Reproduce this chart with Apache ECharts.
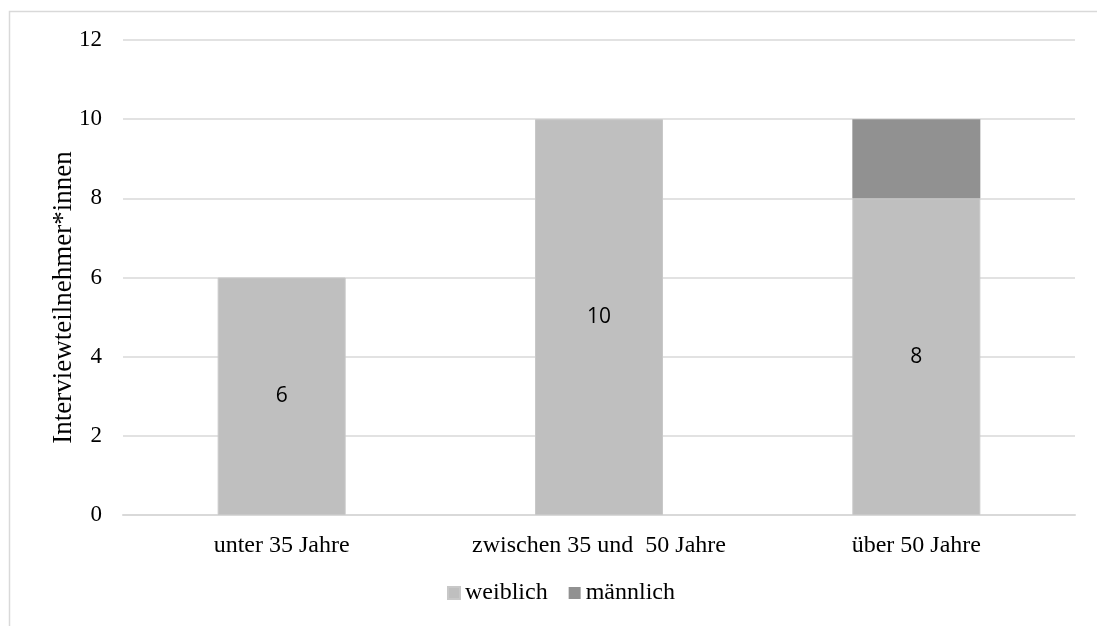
<!DOCTYPE html>
<html>
<head>
<meta charset="utf-8">
<script src="https://cdn.jsdelivr.net/npm/echarts@6/dist/echarts.min.js"></script>
<style>
  html, body { margin: 0; padding: 0; background: #fff; }
  #chart { width: 1097px; height: 626px; }
</style>
</head>
<body>
<div id="chart"></div>
<script>
// Age groups of the interview participants, split by gender
const categories = ['unter 35 Jahre', 'zwischen 35 und  50 Jahre', 'über 50 Jahre'];
const weiblich = [6, 10, 8];
const maennlich = [0, 0, 2];
const yTicks = { min: 0, max: 12, interval: 2 };

const serif = '"Liberation Serif", "Times New Roman", serif';
const sans = '"Open Sans", "Liberation Sans", sans-serif';

const chart = echarts.init(document.getElementById('chart'));
chart.setOption({
  animation: false,
  backgroundColor: '#fff',
  graphic: [{
    type: 'rect',
    shape: { x: 9.5, y: 11.5, width: 1200, height: 800 },
    style: { fill: 'none', stroke: '#d9d9d9', lineWidth: 1.5 },
    silent: true,
    z: -1
  }],
  grid: { left: 123, right: 22, top: 40, bottom: 111 },
  legend: {
    bottom: 16,
    left: 442,
    itemWidth: 12,
    itemHeight: 12,
    itemGap: 21,
    icon: 'rect',
    textStyle: { fontFamily: serif, fontSize: 24, color: '#000' },
    data: ['weiblich', 'männlich']
  },
  xAxis: {
    type: 'category',
    data: categories,
    axisLine: { lineStyle: { color: '#d9d9d9', width: 2 } },
    axisTick: { show: false },
    axisLabel: { fontFamily: serif, fontSize: 24, color: '#000', margin: 19, interval: 0 }
  },
  yAxis: {
    type: 'value',
    min: yTicks.min,
    max: yTicks.max,
    interval: yTicks.interval,
    name: 'Interviewteilnehmer*innen',
    nameLocation: 'middle',
    nameGap: 46,
    nameMoveOverlap: false,
    nameTextStyle: { fontFamily: serif, fontSize: 27, color: '#000', padding: [0, 40, 0, 0] },
    axisLine: { show: false },
    axisTick: { show: false },
    splitLine: { lineStyle: { color: '#d9d9d9', width: 1.5 } },
    axisLabel: { fontFamily: serif, fontSize: 23, color: '#000', margin: 21 }
  },
  series: [
    {
      name: 'weiblich',
      type: 'bar',
      stack: 'total',
      barWidth: 128,
      data: weiblich,
      itemStyle: { color: '#bfbfbf', borderColor: '#c8c8c8', borderWidth: 1 },
      label: {
        show: true,
        position: 'inside',
        fontFamily: sans,
        fontSize: 21,
        color: '#000'
      }
    },
    {
      name: 'männlich',
      type: 'bar',
      stack: 'total',
      barWidth: 128,
      data: maennlich,
      itemStyle: { color: '#919191' },
      label: { show: false }
    }
  ]
});
</script>
</body>
</html>
